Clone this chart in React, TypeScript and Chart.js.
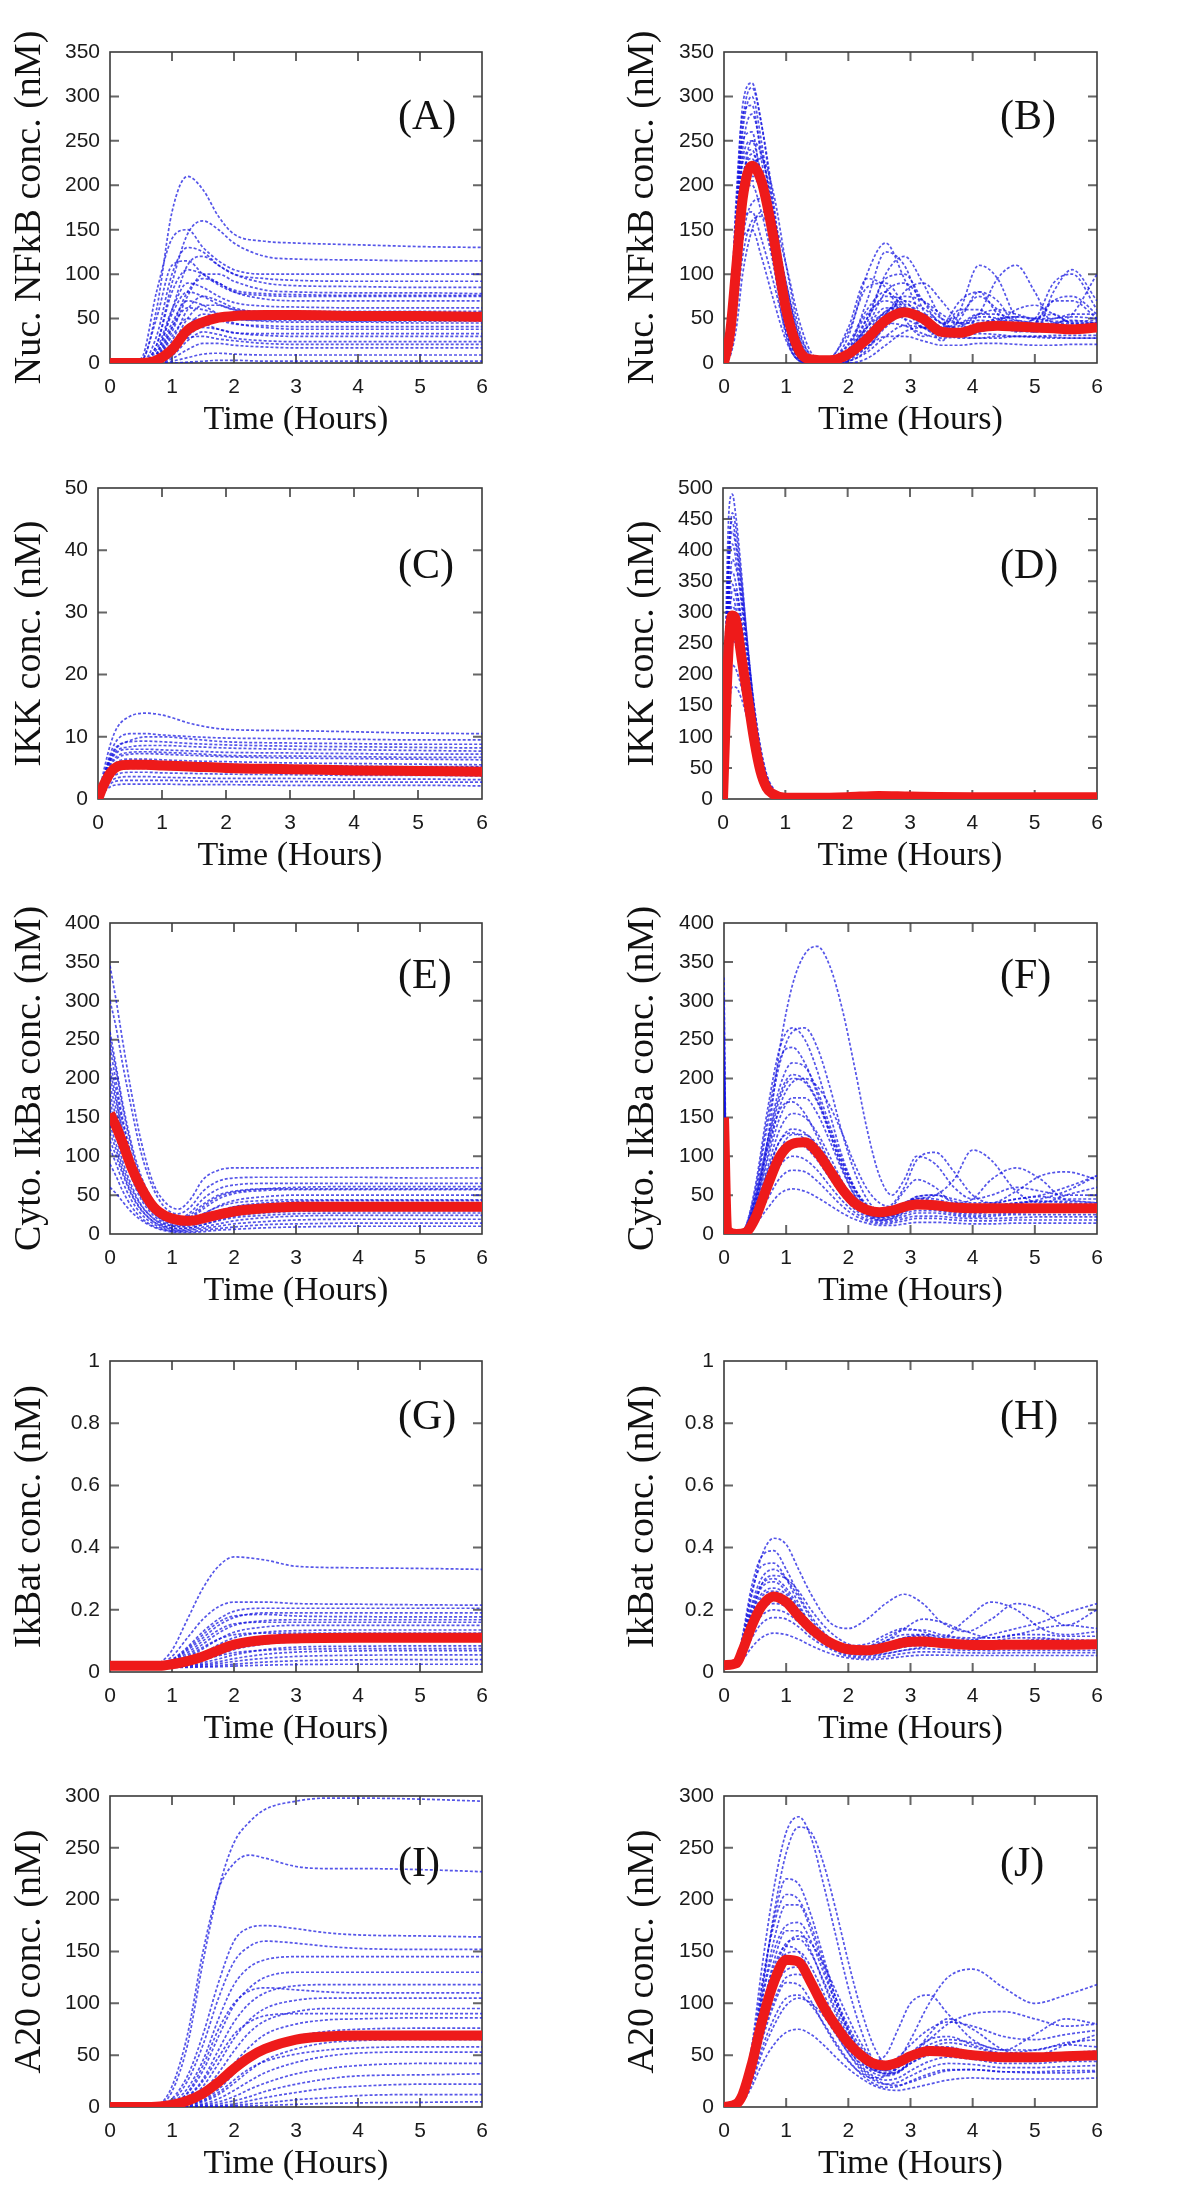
import React, { useEffect, useRef } from "react";
import { Chart, registerables } from "chart.js";

Chart.register(...registerables);

// ---------------- data ----------------
const X_MIN = 0;
const X_MAX = 6;

// Panel A: nuclear NFkB (left column)
const TIME_A = [0, 0.5, 0.75, 1.0, 1.25, 1.5, 1.75, 2.0, 2.5, 3, 4, 5, 6];
const MEAN_A = [0, 0, 3, 15, 37, 46, 51, 53, 54, 54, 53, 53, 52];
const RUNS_A = [
  [0, 2, 60, 170, 210, 195, 165, 145, 137, 135, 133, 131, 130],
  [0, 0, 20, 90, 145, 160, 150, 135, 120, 117, 116, 115, 115],
  [0, 5, 80, 140, 150, 130, 115, 105, 100, 100, 100, 100, 100],
  [0, 0, 30, 100, 130, 125, 110, 100, 95, 93, 92, 92, 92],
  [0, 0, 10, 60, 110, 120, 110, 100, 90, 87, 86, 85, 85],
  [0, 3, 50, 110, 115, 100, 88, 80, 76, 75, 75, 75, 75],
  [0, 0, 5, 40, 80, 95, 90, 80, 72, 70, 70, 70, 70],
  [0, 0, 15, 60, 90, 85, 75, 68, 64, 63, 62, 62, 62],
  [0, 0, 2, 25, 60, 75, 70, 62, 57, 56, 55, 55, 55],
  [0, 0, 8, 45, 70, 65, 55, 50, 47, 46, 46, 45, 45],
  [0, 0, 0, 15, 40, 55, 52, 45, 40, 38, 38, 38, 38],
  [0, 0, 3, 30, 50, 45, 38, 34, 31, 30, 30, 30, 30],
  [0, 0, 0, 8, 25, 35, 32, 28, 25, 24, 24, 24, 24],
  [0, 0, 0, 5, 15, 22, 22, 20, 18, 17, 17, 17, 17],
  [0, 0, 0, 2, 6, 10, 11, 10, 9, 9, 9, 9, 9],
  [0, 0, 0, 0, 1, 2, 3, 3, 2, 2, 2, 2, 2],
  [0, 0, 4, 35, 75, 100, 100, 92, 82, 80, 79, 79, 78],
  [0, 0, 1, 20, 50, 65, 65, 60, 55, 53, 52, 52, 52],
  [0, 0, 6, 40, 62, 60, 55, 50, 48, 48, 47, 47, 47],
  [0, 0, 2, 18, 42, 50, 48, 44, 42, 41, 41, 41, 41],
  [0, 0, 10, 55, 80, 75, 66, 60, 58, 58, 58, 58, 58],
  [0, 0, 0, 10, 30, 40, 38, 34, 33, 33, 33, 33, 33],
  [0, 0, 1, 12, 28, 30, 27, 25, 22, 21, 21, 21, 21],
  [0, 0, 20, 80, 105, 100, 90, 82, 78, 77, 76, 76, 76],
];

// Panel B: nuclear NFkB (right column)
const TIME_B = [0, 0.1, 0.2, 0.3, 0.45, 0.6, 0.8, 1.0, 1.2, 1.4, 1.7, 2.0, 2.3, 2.6, 2.9, 3.2, 3.5, 3.8, 4.1, 4.4, 4.7, 5.0, 5.3, 5.6, 6.0];
const MEAN_B = [0, 35, 110, 185, 222, 205, 140, 60, 15, 4, 3, 10, 27, 48, 57, 50, 35, 34, 40, 42, 41, 40, 39, 38, 40];
const RUNS_B = [
  [0, 50, 180, 290, 315, 270, 170, 60, 10, 0, 0, 15, 70, 125, 110, 60, 25, 60, 110, 95, 50, 35, 80, 105, 70],
  [0, 40, 160, 260, 300, 250, 150, 45, 5, 0, 2, 30, 100, 135, 95, 50, 30, 50, 80, 70, 45, 50, 90, 100, 60],
  [0, 30, 140, 240, 280, 240, 160, 70, 15, 2, 0, 10, 50, 95, 100, 70, 45, 55, 75, 60, 40, 45, 70, 75, 55],
  [0, 45, 170, 250, 260, 200, 110, 30, 3, 0, 5, 35, 85, 90, 65, 40, 40, 60, 60, 45, 40, 50, 55, 45, 45],
  [0, 25, 110, 200, 250, 235, 170, 80, 20, 3, 0, 8, 40, 80, 90, 70, 50, 45, 55, 60, 55, 50, 50, 55, 55],
  [0, 35, 130, 210, 230, 200, 130, 50, 10, 1, 3, 20, 55, 70, 60, 45, 38, 42, 48, 46, 42, 42, 45, 44, 43],
  [0, 20, 90, 170, 210, 205, 160, 90, 30, 5, 0, 5, 25, 55, 75, 70, 55, 45, 45, 50, 52, 50, 47, 47, 48],
  [0, 30, 120, 190, 200, 170, 110, 45, 8, 0, 2, 15, 40, 55, 50, 40, 32, 33, 38, 38, 36, 35, 36, 37, 37],
  [0, 15, 70, 140, 180, 185, 150, 90, 35, 8, 0, 3, 18, 40, 55, 55, 45, 38, 38, 42, 42, 40, 40, 41, 41],
  [0, 25, 100, 160, 170, 140, 90, 35, 5, 0, 1, 10, 30, 45, 42, 33, 28, 30, 33, 32, 30, 30, 31, 31, 31],
  [0, 10, 60, 120, 160, 165, 140, 85, 30, 6, 0, 2, 12, 30, 42, 40, 33, 28, 28, 30, 30, 29, 28, 28, 28],
  [0, 20, 85, 140, 150, 120, 70, 25, 3, 0, 0, 5, 18, 30, 30, 25, 20, 20, 22, 22, 21, 20, 20, 21, 21],
  [0, 50, 190, 280, 290, 230, 130, 35, 3, 0, 4, 40, 95, 85, 50, 30, 40, 70, 80, 55, 35, 45, 70, 70, 50],
  [0, 15, 80, 160, 220, 230, 190, 110, 40, 8, 0, 2, 15, 45, 80, 90, 70, 45, 35, 45, 60, 65, 55, 45, 45],
  [0, 8, 40, 100, 150, 170, 160, 110, 50, 12, 0, 0, 5, 20, 35, 40, 35, 30, 28, 28, 30, 30, 29, 28, 28],
  [0, 40, 150, 230, 250, 210, 130, 50, 8, 0, 1, 15, 50, 75, 70, 50, 40, 45, 55, 55, 48, 45, 50, 52, 50],
  [0, 35, 160, 270, 310, 270, 180, 70, 12, 0, 0, 8, 45, 100, 120, 90, 50, 35, 55, 95, 110, 80, 45, 55, 100],
  [0, 30, 125, 205, 235, 215, 150, 65, 14, 2, 2, 12, 35, 58, 62, 50, 38, 36, 40, 44, 43, 41, 40, 40, 41],
  [0, 28, 115, 195, 225, 205, 140, 58, 12, 1, 2, 14, 40, 62, 58, 44, 34, 35, 42, 45, 42, 39, 38, 40, 42],
  [0, 40, 145, 225, 240, 200, 120, 40, 6, 0, 3, 22, 60, 80, 62, 40, 32, 40, 52, 50, 40, 38, 44, 48, 45],
  [0, 18, 85, 165, 205, 200, 155, 80, 22, 3, 0, 6, 28, 55, 70, 62, 45, 35, 38, 48, 52, 48, 42, 42, 46],
  [0, 22, 95, 175, 215, 205, 150, 70, 16, 2, 1, 9, 32, 58, 66, 55, 40, 34, 38, 46, 48, 44, 40, 41, 44],
];

// Panel C: IKK (left column)
const TIME_C = [0, 0.1, 0.2, 0.3, 0.5, 0.75, 1.0, 1.5, 2.0, 3.0, 4.0, 5.0, 6.0];
const MEAN_C = [0, 2.5, 4.3, 5.2, 5.5, 5.5, 5.4, 5.2, 5.0, 4.8, 4.6, 4.5, 4.4];
const RUNS_C = [
  [0, 5, 9, 11.5, 13.3, 13.8, 13.5, 12, 11.2, 11, 10.8, 10.6, 10.5],
  [0, 4, 7.5, 9.5, 10.5, 10.5, 10.3, 10, 9.8, 9.7, 9.6, 9.5, 9.5],
  [0, 4, 7, 8.5, 9.2, 9.3, 9.2, 8.9, 8.7, 8.5, 8.4, 8.3, 8.2],
  [0, 3.5, 6.2, 7.5, 8, 8, 7.9, 7.7, 7.5, 7.4, 7.3, 7.2, 7.2],
  [0, 3, 5.5, 6.6, 7.2, 7.3, 7.2, 7, 6.8, 6.6, 6.5, 6.4, 6.3],
  [0, 3, 5, 6, 6.4, 6.4, 6.3, 6.1, 6, 5.8, 5.7, 5.6, 5.5],
  [0, 2.5, 4.5, 5.3, 5.7, 5.7, 5.6, 5.5, 5.3, 5.2, 5.1, 5, 5],
  [0, 2.2, 3.8, 4.6, 4.9, 4.9, 4.8, 4.7, 4.6, 4.5, 4.4, 4.3, 4.3],
  [0, 2, 3.4, 4, 4.3, 4.3, 4.2, 4.1, 4, 3.9, 3.8, 3.8, 3.7],
  [0, 1.7, 2.9, 3.4, 3.6, 3.6, 3.5, 3.4, 3.3, 3.3, 3.2, 3.2, 3.1],
  [0, 1.5, 2.5, 2.9, 3, 3, 3, 2.9, 2.8, 2.8, 2.7, 2.7, 2.7],
  [0, 1.2, 2, 2.3, 2.4, 2.4, 2.4, 2.3, 2.3, 2.2, 2.2, 2.2, 2.1],
  [0, 4, 6.5, 7.8, 8.4, 8.6, 8.6, 8.4, 8.2, 8, 7.9, 7.8, 7.7],
  [0, 3.2, 5.8, 6.9, 7.5, 7.6, 7.5, 7.3, 7, 6.9, 6.8, 6.7, 6.7],
  [0, 2.8, 4.8, 5.8, 6.1, 6.1, 6.0, 5.8, 5.6, 5.4, 5.3, 5.2, 5.2],
  [0, 2.4, 4.1, 4.9, 5.2, 5.2, 5.1, 5.0, 4.8, 4.7, 4.6, 4.5, 4.5],
  [0, 3.6, 6.6, 8.3, 9.4, 10.0, 10.0, 9.6, 9.2, 9.0, 8.9, 8.8, 8.8],
  [0, 2.6, 4.7, 5.6, 6.0, 6.0, 5.9, 5.7, 5.5, 5.3, 5.2, 5.1, 5.1],
];

// Panel D: IKK (right column)
const TIME_D = [0, 0.05, 0.1, 0.15, 0.2, 0.3, 0.4, 0.5, 0.6, 0.7, 0.8, 1.0, 1.5, 2, 2.5, 3, 4, 5, 6];
const MEAN_D = [0, 150, 260, 295, 290, 225, 160, 95, 45, 18, 8, 2, 2, 3, 5, 4, 3, 3, 3];
const RUNS_D = [
  [0, 300, 470, 490, 460, 360, 240, 140, 70, 30, 12, 3, 2, 3, 4, 4, 3, 3, 3],
  [0, 260, 420, 445, 420, 340, 240, 150, 85, 40, 18, 4, 2, 3, 4, 4, 3, 3, 3],
  [0, 230, 380, 410, 390, 310, 220, 135, 75, 35, 15, 3, 2, 3, 4, 4, 3, 3, 3],
  [0, 200, 340, 365, 350, 280, 190, 115, 60, 27, 11, 3, 2, 3, 4, 4, 3, 3, 3],
  [0, 170, 300, 325, 310, 245, 165, 95, 48, 20, 8, 2, 2, 3, 4, 4, 3, 3, 3],
  [0, 140, 255, 285, 275, 225, 160, 100, 55, 26, 11, 3, 2, 3, 4, 4, 3, 3, 3],
  [0, 120, 225, 255, 248, 205, 145, 88, 45, 20, 8, 2, 2, 3, 4, 4, 3, 3, 3],
  [0, 100, 190, 215, 210, 178, 130, 82, 44, 20, 8, 2, 2, 3, 4, 4, 3, 3, 3],
  [0, 80, 155, 180, 180, 160, 125, 85, 50, 25, 11, 3, 2, 3, 4, 4, 3, 3, 3],
  [0, 220, 390, 430, 410, 330, 230, 135, 65, 28, 12, 3, 2, 3, 4, 4, 3, 3, 3],
  [0, 180, 330, 385, 375, 320, 235, 150, 82, 38, 16, 4, 2, 3, 4, 4, 3, 3, 3],
  [0, 150, 285, 335, 335, 285, 205, 125, 64, 28, 11, 3, 2, 3, 4, 4, 3, 3, 3],
  [0, 160, 280, 310, 300, 240, 170, 100, 50, 22, 9, 2, 2, 3, 4, 4, 3, 3, 3],
  [0, 190, 320, 345, 330, 265, 180, 105, 52, 22, 9, 2, 2, 3, 4, 4, 3, 3, 3],
  [0, 240, 400, 460, 440, 350, 245, 145, 75, 33, 14, 3, 2, 3, 4, 4, 3, 3, 3],
];

// Panel E: cytoplasmic IkBa (left column)
const TIME_E = [0, 0.1, 0.2, 0.35, 0.5, 0.7, 0.9, 1.1, 1.3, 1.5, 1.75, 2.0, 2.5, 3, 4, 5, 6];
const MEAN_E = [155, 138, 118, 85, 60, 35, 23, 18, 17, 20, 25, 29, 33, 35, 35, 35, 35];
const RUNS_E = [
  [345, 300, 250, 180, 120, 65, 40, 32, 45, 70, 82, 85, 85, 85, 85, 85, 85],
  [300, 265, 220, 160, 105, 58, 33, 26, 35, 55, 68, 72, 73, 73, 73, 72, 72],
  [260, 215, 170, 115, 75, 42, 25, 20, 28, 45, 58, 63, 65, 65, 65, 65, 65],
  [240, 195, 150, 100, 62, 35, 20, 15, 20, 32, 45, 52, 56, 57, 57, 57, 57],
  [210, 175, 135, 90, 56, 30, 17, 13, 16, 25, 36, 43, 48, 50, 50, 50, 50],
  [190, 160, 125, 82, 52, 28, 15, 11, 13, 20, 28, 35, 40, 42, 43, 43, 43],
  [170, 140, 110, 72, 45, 24, 13, 9, 10, 15, 22, 28, 33, 35, 36, 36, 36],
  [150, 125, 95, 62, 38, 20, 10, 7, 8, 12, 18, 23, 27, 29, 30, 30, 30],
  [130, 108, 82, 52, 32, 16, 8, 5, 6, 9, 13, 17, 21, 23, 24, 24, 24],
  [110, 90, 68, 43, 26, 13, 6, 4, 5, 7, 10, 13, 16, 18, 19, 19, 19],
  [90, 74, 56, 35, 21, 10, 5, 3, 3, 5, 7, 9, 12, 13, 14, 14, 14],
  [60, 52, 42, 28, 18, 9, 4, 2, 2, 3, 5, 6, 8, 9, 10, 10, 10],
  [180, 150, 115, 75, 48, 27, 18, 18, 25, 38, 50, 55, 58, 58, 58, 58, 58],
  [140, 115, 88, 58, 37, 20, 12, 10, 12, 18, 25, 30, 33, 34, 34, 34, 34],
  [220, 185, 145, 97, 60, 33, 19, 14, 16, 23, 30, 35, 38, 39, 39, 39, 39],
  [160, 135, 108, 75, 50, 28, 17, 13, 14, 20, 28, 33, 36, 37, 37, 37, 37],
  [200, 170, 132, 88, 55, 30, 18, 14, 17, 26, 35, 40, 43, 44, 44, 44, 44],
  [120, 100, 78, 50, 31, 16, 9, 7, 8, 12, 17, 21, 24, 26, 27, 27, 27],
  [250, 210, 165, 110, 70, 38, 22, 17, 22, 35, 48, 54, 58, 60, 61, 61, 61],
];

// Panel F: cytoplasmic IkBa (right column)
const TIME_F = [0, 0.05, 0.2, 0.35, 0.5, 0.7, 0.9, 1.1, 1.3, 1.5, 1.7, 1.9, 2.1, 2.3, 2.5, 2.7, 2.9, 3.1, 3.4, 3.7, 4.0, 4.3, 4.7, 5.1, 5.5, 6.0];
const MEAN_F = [150, 5, 0, 2, 20, 62, 100, 116, 118, 105, 82, 58, 40, 31, 28, 30, 35, 38, 37, 34, 33, 33, 33, 33, 33, 33];
const RUNS_F = [
  [330, 10, 0, 5, 35, 120, 240, 320, 360, 370, 345, 290, 215, 135, 75, 50, 70, 100, 90, 60, 45, 50, 60, 55, 50, 50],
  [300, 8, 0, 8, 50, 140, 220, 260, 265, 240, 190, 130, 80, 45, 30, 35, 55, 70, 60, 40, 45, 70, 85, 70, 45, 45],
  [250, 6, 0, 10, 55, 150, 225, 240, 220, 180, 130, 85, 50, 30, 25, 30, 40, 45, 50, 70, 108, 95, 55, 40, 50, 60],
  [220, 5, 0, 8, 45, 120, 190, 220, 215, 185, 140, 95, 58, 35, 25, 28, 38, 45, 42, 35, 33, 35, 40, 42, 40, 38],
  [200, 5, 0, 6, 40, 110, 175, 200, 195, 170, 130, 88, 55, 33, 22, 25, 35, 42, 40, 32, 30, 33, 38, 45, 55, 75],
  [180, 4, 0, 5, 35, 95, 150, 175, 175, 155, 120, 82, 50, 30, 20, 22, 30, 38, 38, 32, 28, 30, 34, 36, 34, 33],
  [160, 4, 0, 5, 30, 85, 135, 155, 150, 130, 100, 68, 42, 26, 18, 20, 28, 34, 33, 28, 26, 28, 30, 31, 30, 30],
  [150, 3, 0, 4, 28, 78, 120, 135, 130, 112, 85, 58, 37, 24, 18, 20, 26, 30, 30, 26, 24, 25, 27, 28, 28, 28],
  [140, 3, 0, 4, 25, 68, 105, 118, 112, 95, 72, 50, 32, 22, 17, 18, 23, 27, 27, 24, 22, 23, 25, 25, 25, 25],
  [120, 3, 0, 3, 20, 55, 88, 100, 96, 82, 62, 43, 28, 19, 15, 16, 20, 23, 23, 21, 20, 20, 21, 22, 22, 22],
  [100, 2, 0, 3, 17, 45, 72, 82, 80, 68, 52, 36, 24, 17, 13, 14, 17, 20, 20, 18, 17, 17, 18, 18, 18, 18],
  [80, 2, 0, 2, 12, 33, 52, 58, 55, 47, 37, 27, 19, 14, 11, 11, 13, 15, 15, 14, 13, 13, 14, 14, 14, 14],
  [260, 7, 0, 10, 60, 160, 240, 265, 250, 210, 155, 100, 60, 38, 30, 38, 60, 95, 105, 80, 50, 40, 55, 75, 80, 70],
  [190, 5, 0, 6, 35, 100, 165, 195, 200, 190, 165, 130, 90, 58, 40, 35, 40, 48, 50, 45, 40, 40, 45, 50, 60, 75],
  [170, 4, 0, 7, 42, 110, 160, 170, 155, 125, 92, 62, 40, 28, 24, 28, 38, 48, 50, 42, 36, 38, 45, 48, 44, 40],
  [130, 3, 0, 5, 30, 80, 120, 130, 122, 102, 78, 54, 36, 26, 22, 25, 32, 38, 38, 34, 31, 32, 34, 35, 35, 35],
  [110, 3, 0, 4, 26, 70, 108, 120, 115, 98, 75, 52, 35, 25, 21, 23, 30, 36, 36, 32, 30, 30, 32, 33, 33, 33],
  [210, 5, 0, 7, 45, 118, 180, 205, 198, 172, 135, 92, 58, 36, 26, 28, 38, 46, 45, 38, 34, 36, 40, 42, 42, 40],
  [150, 3, 0, 3, 22, 65, 108, 128, 128, 115, 92, 66, 44, 30, 23, 24, 30, 36, 38, 35, 32, 32, 34, 36, 36, 35],
];

// Panel G: IkBat (left column)
const TIME_G = [0, 0.5, 0.8, 1.0, 1.25, 1.5, 1.75, 2.0, 2.5, 3, 4, 5, 6];
const MEAN_G = [0.02, 0.02, 0.02, 0.025, 0.035, 0.05, 0.07, 0.088, 0.103, 0.108, 0.11, 0.11, 0.11];
const RUNS_G = [
  [0.02, 0.02, 0.03, 0.07, 0.17, 0.27, 0.34, 0.37, 0.36, 0.34, 0.335, 0.333, 0.33],
  [0.02, 0.02, 0.025, 0.05, 0.11, 0.17, 0.21, 0.225, 0.225, 0.22, 0.218, 0.216, 0.215],
  [0.02, 0.02, 0.024, 0.04, 0.08, 0.13, 0.17, 0.195, 0.205, 0.205, 0.205, 0.205, 0.205],
  [0.02, 0.02, 0.022, 0.035, 0.07, 0.11, 0.15, 0.175, 0.19, 0.19, 0.19, 0.19, 0.19],
  [0.02, 0.02, 0.022, 0.03, 0.055, 0.09, 0.125, 0.15, 0.165, 0.168, 0.168, 0.168, 0.168],
  [0.02, 0.02, 0.021, 0.027, 0.045, 0.075, 0.105, 0.128, 0.145, 0.15, 0.15, 0.15, 0.15],
  [0.02, 0.02, 0.02, 0.024, 0.037, 0.06, 0.088, 0.11, 0.128, 0.133, 0.135, 0.135, 0.135],
  [0.02, 0.02, 0.02, 0.022, 0.03, 0.048, 0.07, 0.09, 0.108, 0.115, 0.118, 0.118, 0.118],
  [0.02, 0.02, 0.02, 0.021, 0.026, 0.038, 0.055, 0.072, 0.09, 0.097, 0.1, 0.1, 0.1],
  [0.02, 0.02, 0.02, 0.02, 0.023, 0.03, 0.042, 0.055, 0.072, 0.08, 0.083, 0.084, 0.084],
  [0.02, 0.02, 0.02, 0.02, 0.021, 0.025, 0.033, 0.043, 0.057, 0.064, 0.068, 0.069, 0.069],
  [0.02, 0.02, 0.02, 0.02, 0.02, 0.022, 0.027, 0.034, 0.044, 0.05, 0.054, 0.055, 0.055],
  [0.015, 0.015, 0.015, 0.015, 0.016, 0.018, 0.021, 0.025, 0.032, 0.036, 0.039, 0.04, 0.04],
  [0.015, 0.015, 0.015, 0.015, 0.015, 0.016, 0.017, 0.019, 0.022, 0.024, 0.025, 0.025, 0.025],
  [0.02, 0.02, 0.023, 0.038, 0.075, 0.12, 0.16, 0.18, 0.185, 0.18, 0.178, 0.177, 0.177],
  [0.02, 0.02, 0.021, 0.03, 0.05, 0.08, 0.105, 0.12, 0.125, 0.125, 0.125, 0.125, 0.125],
  [0.02, 0.02, 0.02, 0.025, 0.04, 0.062, 0.08, 0.092, 0.1, 0.102, 0.103, 0.103, 0.103],
  [0.02, 0.02, 0.022, 0.033, 0.062, 0.1, 0.135, 0.155, 0.16, 0.16, 0.16, 0.16, 0.16],
  [0.02, 0.02, 0.02, 0.022, 0.028, 0.04, 0.052, 0.062, 0.07, 0.073, 0.075, 0.075, 0.075],
];

// Panel H: IkBat (right column)
const TIME_H = [0, 0.2, 0.3, 0.45, 0.6, 0.8, 1.0, 1.2, 1.4, 1.7, 2.0, 2.3, 2.6, 2.9, 3.2, 3.5, 3.9, 4.3, 4.7, 5.1, 5.5, 6.0];
const MEAN_H = [0.022, 0.028, 0.07, 0.15, 0.21, 0.243, 0.225, 0.18, 0.14, 0.095, 0.073, 0.07, 0.08, 0.095, 0.098, 0.093, 0.088, 0.087, 0.088, 0.088, 0.088, 0.089];
const RUNS_H = [
  [0.02, 0.03, 0.1, 0.25, 0.37, 0.43, 0.41, 0.33, 0.25, 0.16, 0.14, 0.17, 0.22, 0.25, 0.22, 0.16, 0.13, 0.17, 0.22, 0.2, 0.15, 0.2],
  [0.02, 0.035, 0.12, 0.28, 0.37, 0.39, 0.33, 0.25, 0.18, 0.11, 0.085, 0.09, 0.12, 0.14, 0.13, 0.11, 0.17, 0.225, 0.2, 0.14, 0.12, 0.13],
  [0.02, 0.03, 0.1, 0.22, 0.3, 0.33, 0.3, 0.24, 0.17, 0.1, 0.075, 0.08, 0.1, 0.12, 0.12, 0.1, 0.1, 0.12, 0.14, 0.16, 0.19, 0.22],
  [0.02, 0.03, 0.09, 0.2, 0.27, 0.29, 0.26, 0.2, 0.15, 0.1, 0.08, 0.08, 0.09, 0.11, 0.115, 0.105, 0.1, 0.1, 0.11, 0.11, 0.1, 0.1],
  [0.02, 0.028, 0.08, 0.17, 0.24, 0.26, 0.24, 0.19, 0.14, 0.09, 0.065, 0.065, 0.075, 0.09, 0.095, 0.09, 0.085, 0.085, 0.087, 0.088, 0.088, 0.088],
  [0.02, 0.026, 0.07, 0.15, 0.21, 0.23, 0.22, 0.18, 0.13, 0.085, 0.06, 0.058, 0.068, 0.08, 0.085, 0.082, 0.078, 0.077, 0.078, 0.078, 0.078, 0.078],
  [0.02, 0.025, 0.06, 0.13, 0.18, 0.2, 0.19, 0.16, 0.12, 0.08, 0.055, 0.05, 0.058, 0.07, 0.075, 0.073, 0.07, 0.069, 0.07, 0.07, 0.07, 0.07],
  [0.02, 0.024, 0.05, 0.11, 0.155, 0.175, 0.17, 0.145, 0.11, 0.075, 0.05, 0.045, 0.05, 0.06, 0.065, 0.064, 0.062, 0.061, 0.062, 0.062, 0.062, 0.062],
  [0.02, 0.022, 0.04, 0.08, 0.11, 0.125, 0.12, 0.105, 0.085, 0.06, 0.045, 0.04, 0.043, 0.05, 0.054, 0.054, 0.053, 0.053, 0.053, 0.053, 0.053, 0.053],
  [0.02, 0.03, 0.11, 0.26, 0.34, 0.35, 0.3, 0.22, 0.15, 0.09, 0.07, 0.08, 0.11, 0.135, 0.135, 0.12, 0.11, 0.11, 0.12, 0.12, 0.115, 0.115],
  [0.02, 0.028, 0.09, 0.19, 0.25, 0.27, 0.25, 0.2, 0.15, 0.1, 0.075, 0.075, 0.09, 0.11, 0.12, 0.115, 0.105, 0.1, 0.1, 0.105, 0.105, 0.1],
  [0.02, 0.03, 0.08, 0.18, 0.28, 0.31, 0.3, 0.26, 0.2, 0.13, 0.09, 0.08, 0.1, 0.14, 0.17, 0.16, 0.13, 0.11, 0.12, 0.14, 0.15, 0.14],
  [0.02, 0.025, 0.065, 0.14, 0.2, 0.22, 0.21, 0.17, 0.13, 0.085, 0.06, 0.055, 0.06, 0.07, 0.08, 0.085, 0.083, 0.08, 0.078, 0.078, 0.08, 0.08],
  [0.02, 0.027, 0.075, 0.16, 0.22, 0.245, 0.23, 0.185, 0.14, 0.095, 0.07, 0.068, 0.078, 0.092, 0.098, 0.094, 0.09, 0.088, 0.088, 0.09, 0.09, 0.09],
  [0.02, 0.026, 0.068, 0.145, 0.205, 0.24, 0.235, 0.2, 0.155, 0.105, 0.078, 0.072, 0.08, 0.095, 0.105, 0.102, 0.095, 0.09, 0.09, 0.092, 0.092, 0.092],
  [0.02, 0.03, 0.095, 0.21, 0.28, 0.3, 0.27, 0.21, 0.15, 0.095, 0.07, 0.07, 0.085, 0.1, 0.105, 0.1, 0.095, 0.095, 0.1, 0.1, 0.098, 0.098],
];

// Panel I: A20 (left column)
const TIME_I = [0, 0.5, 0.8, 1.0, 1.25, 1.5, 1.75, 2.0, 2.25, 2.5, 3.0, 3.5, 4, 5, 6];
const MEAN_I = [0, 0, 0.5, 2, 6, 13, 24, 37, 48, 56, 65, 68, 69, 69, 69];
const RUNS_I = [
  [0, 0, 2, 15, 60, 140, 210, 255, 275, 287, 295, 298, 298, 297, 295],
  [0, 0, 3, 20, 70, 150, 210, 235, 243, 240, 232, 230, 230, 229, 227],
  [0, 0, 1, 8, 30, 70, 120, 160, 173, 175, 172, 168, 166, 165, 164],
  [0, 0, 1, 6, 25, 60, 105, 140, 155, 160, 158, 155, 153, 152, 152],
  [0, 0, 0.5, 4, 18, 45, 85, 118, 135, 142, 145, 145, 145, 145, 145],
  [0, 0, 0.3, 3, 13, 35, 68, 98, 115, 125, 130, 130, 130, 130, 130],
  [0, 0, 0.2, 2, 10, 27, 55, 82, 100, 110, 117, 118, 118, 118, 118],
  [0, 0, 0, 1, 7, 20, 42, 66, 84, 95, 103, 105, 105, 105, 105],
  [0, 0, 0, 1, 5, 15, 33, 54, 72, 83, 92, 95, 95, 95, 95],
  [0, 0, 0, 0.5, 3, 10, 24, 42, 58, 70, 80, 84, 85, 86, 86],
  [0, 0, 0, 0.3, 2, 7, 17, 32, 46, 57, 68, 73, 75, 76, 76],
  [0, 0, 0, 0.2, 1, 5, 12, 23, 35, 45, 56, 62, 64, 65, 65],
  [0, 0, 0, 0, 0.5, 3, 8, 16, 25, 33, 43, 49, 52, 53, 53],
  [0, 0, 0, 0, 0.3, 2, 5, 10, 17, 23, 32, 37, 40, 42, 42],
  [0, 0, 0, 0, 0.2, 1, 3, 6, 10, 15, 22, 27, 30, 31, 32],
  [0, 0, 0, 0, 0, 0.5, 1.5, 3, 6, 9, 14, 18, 20, 22, 22],
  [0, 0, 0, 0, 0, 0.2, 0.6, 1.5, 3, 4, 7, 9, 11, 12, 12],
  [0, 0, 0, 0, 0, 0, 0.2, 0.5, 1, 1.5, 2.5, 3.5, 4, 4.5, 5],
  [0, 0, 0.5, 3, 14, 40, 75, 100, 112, 115, 113, 111, 110, 110, 110],
  [0, 0, 0.3, 2, 9, 25, 48, 70, 82, 88, 90, 90, 90, 90, 90],
  [0, 0, 0, 0.5, 3, 9, 20, 35, 47, 55, 62, 65, 66, 67, 67],
  [0, 0, 0, 0.3, 2, 6, 14, 26, 37, 44, 51, 55, 57, 58, 58],
];

// Panel J: A20 (right column)
const TIME_J = [0, 0.2, 0.3, 0.45, 0.6, 0.8, 1.0, 1.2, 1.4, 1.6, 1.8, 2.0, 2.2, 2.4, 2.6, 2.8, 3.0, 3.3, 3.6, 4.0, 4.5, 5.0, 5.5, 6.0];
const MEAN_J = [0, 3, 12, 42, 80, 120, 142, 140, 120, 97, 78, 62, 50, 42, 40, 43, 49, 54, 53, 50, 48, 48, 49, 50];
const RUNS_J = [
  [0, 2, 15, 60, 130, 210, 265, 280, 260, 215, 165, 115, 75, 45, 35, 45, 65, 100, 125, 133, 115, 100, 108, 118],
  [0, 1, 10, 45, 105, 185, 245, 270, 265, 235, 190, 140, 95, 60, 40, 35, 45, 70, 85, 75, 55, 50, 60, 70],
  [0, 2, 12, 50, 110, 180, 220, 215, 185, 145, 105, 75, 55, 45, 50, 75, 100, 108, 90, 65, 55, 70, 85, 80],
  [0, 2, 12, 48, 100, 160, 195, 195, 170, 135, 100, 72, 50, 38, 35, 40, 52, 65, 68, 60, 52, 55, 60, 58],
  [0, 2, 11, 42, 88, 140, 170, 170, 150, 120, 90, 65, 45, 33, 30, 33, 42, 52, 56, 52, 46, 46, 50, 50],
  [0, 2, 10, 38, 78, 120, 148, 150, 135, 110, 82, 58, 40, 30, 26, 28, 35, 44, 48, 46, 42, 42, 44, 44],
  [0, 1, 8, 32, 66, 102, 125, 128, 116, 95, 72, 52, 36, 26, 22, 24, 30, 38, 42, 41, 38, 38, 39, 40],
  [0, 1, 7, 27, 55, 85, 105, 108, 98, 81, 62, 45, 32, 23, 19, 20, 25, 32, 36, 36, 34, 34, 35, 35],
  [0, 1, 5, 20, 40, 60, 72, 75, 70, 60, 48, 37, 28, 21, 17, 16, 18, 22, 26, 28, 27, 27, 27, 28],
  [0, 2, 14, 55, 115, 175, 205, 200, 175, 140, 105, 78, 58, 45, 42, 48, 60, 75, 82, 78, 68, 65, 70, 74],
  [0, 1, 9, 35, 75, 120, 155, 165, 158, 138, 112, 86, 62, 45, 38, 40, 50, 65, 80, 90, 92, 85, 78, 80],
  [0, 1, 8, 30, 62, 98, 120, 118, 102, 80, 60, 44, 33, 28, 30, 38, 50, 58, 58, 52, 46, 46, 48, 48],
  [0, 2, 10, 40, 82, 128, 158, 162, 148, 122, 94, 68, 48, 36, 33, 38, 48, 60, 65, 62, 55, 55, 62, 65],
  [0, 1, 6, 24, 50, 78, 98, 105, 100, 88, 70, 52, 38, 28, 22, 21, 24, 30, 35, 36, 34, 33, 33, 34],
  [0, 2, 12, 45, 90, 135, 155, 150, 128, 100, 75, 55, 42, 36, 36, 42, 50, 57, 56, 52, 49, 49, 50, 51],
  [0, 2, 11, 40, 82, 125, 140, 138, 122, 98, 76, 58, 45, 38, 36, 40, 47, 54, 55, 52, 48, 47, 48, 49],
  [0, 1, 9, 34, 72, 112, 132, 135, 124, 104, 82, 62, 46, 36, 32, 34, 42, 50, 52, 49, 45, 44, 46, 46],
  [0, 2, 13, 50, 100, 150, 175, 178, 160, 130, 100, 74, 52, 38, 32, 34, 44, 56, 62, 58, 50, 48, 52, 54],
];

const X_TITLE = "Time (Hours)";

// ---------------- layout / style ----------------
const CANVAS_W = 600;
const CANVAS_H = 460;
const PAD_TOP = 52;
const PLOT_H = 311;

const SERIF = "'Liberation Serif', 'Times New Roman', serif";
const SANS = "'Liberation Sans', Arial, sans-serif";

const PANELS = [
  { id: "A", yTitle: "Nuc. NFkB conc. (nM)", yMax: 350, yStep: 50, time: TIME_A, mean: MEAN_A, runs: RUNS_A, col: 0, plotTop: 52, axisW: 110, labelDx: 288, labelDy: 66 },
  { id: "B", yTitle: "Nuc. NFkB conc. (nM)", yMax: 350, yStep: 50, time: TIME_B, mean: MEAN_B, runs: RUNS_B, col: 1, plotTop: 52, axisW: 124, labelDx: 276, labelDy: 66 },
  { id: "C", yTitle: "IKK conc. (nM)", yMax: 50, yStep: 10, time: TIME_C, mean: MEAN_C, runs: RUNS_C, col: 0, plotTop: 488, axisW: 98, labelDx: 300, labelDy: 79 },
  { id: "D", yTitle: "IKK conc. (nM)", yMax: 500, yStep: 50, time: TIME_D, mean: MEAN_D, runs: RUNS_D, col: 1, plotTop: 488, axisW: 123, labelDx: 277, labelDy: 79 },
  { id: "E", yTitle: "Cyto. IkBa conc. (nM)", yMax: 400, yStep: 50, time: TIME_E, mean: MEAN_E, runs: RUNS_E, col: 0, plotTop: 923, axisW: 110, labelDx: 288, labelDy: 54 },
  { id: "F", yTitle: "Cyto. IkBa conc. (nM)", yMax: 400, yStep: 50, time: TIME_F, mean: MEAN_F, runs: RUNS_F, col: 1, plotTop: 923, axisW: 124, labelDx: 276, labelDy: 54 },
  { id: "G", yTitle: "IkBat conc. (nM)", yMax: 1, yStep: 0.2, time: TIME_G, mean: MEAN_G, runs: RUNS_G, col: 0, plotTop: 1361, axisW: 110, labelDx: 288, labelDy: 57 },
  { id: "H", yTitle: "IkBat conc. (nM)", yMax: 1, yStep: 0.2, time: TIME_H, mean: MEAN_H, runs: RUNS_H, col: 1, plotTop: 1361, axisW: 124, labelDx: 276, labelDy: 57 },
  { id: "I", yTitle: "A20 conc. (nM)", yMax: 300, yStep: 50, time: TIME_I, mean: MEAN_I, runs: RUNS_I, col: 0, plotTop: 1796, axisW: 110, labelDx: 288, labelDy: 69 },
  { id: "J", yTitle: "A20 conc. (nM)", yMax: 300, yStep: 50, time: TIME_J, mean: MEAN_J, runs: RUNS_J, col: 1, plotTop: 1796, axisW: 124, labelDx: 276, labelDy: 69 },
];

const framePlugin = {
  id: "frameTicks",
  beforeDatasetsDraw(chart: any) {
    const { ctx, chartArea } = chart;
    const { left, right, top, bottom } = chartArea;
    const xs = chart.scales.x;
    const ys = chart.scales.y;
    const L = 9;
    ctx.save();
    ctx.strokeStyle = "#666";
    ctx.lineWidth = 2;
    ctx.beginPath();
    xs.ticks.forEach((t: any) => {
      const px = xs.getPixelForValue(t.value);
      if (px <= left + 1 || px >= right - 1) return;
      ctx.moveTo(px, bottom);
      ctx.lineTo(px, bottom - L);
      ctx.moveTo(px, top);
      ctx.lineTo(px, top + L);
    });
    ys.ticks.forEach((t: any) => {
      const py = ys.getPixelForValue(t.value);
      if (py <= top + 1 || py >= bottom - 1) return;
      ctx.moveTo(left, py);
      ctx.lineTo(left + L, py);
      ctx.moveTo(right, py);
      ctx.lineTo(right - L, py);
    });
    ctx.stroke();
    ctx.strokeStyle = "#3a3a3a";
    ctx.lineWidth = 1.6;
    ctx.strokeRect(left, top, right - left, bottom - top);
    ctx.restore();
  },
};

function makeLabelPlugin(p: any) {
  return {
    id: "panelLabel",
    afterDatasetsDraw(chart: any) {
      const { ctx, chartArea } = chart;
      ctx.save();
      ctx.fillStyle = "#111";
      ctx.font = `42px ${SERIF}`;
      ctx.textAlign = "left";
      ctx.textBaseline = "middle";
      ctx.fillText(`(${p.id})`, chartArea.left + p.labelDx, chartArea.top + p.labelDy);
      ctx.restore();
    },
  };
}

function fmt(v: any) {
  return String(Math.round(Number(v) * 100) / 100);
}

function makeChart(canvas: HTMLCanvasElement, p: any) {
  const toPts = (series: number[]) => p.time.map((t: number, i: number) => ({ x: t, y: series[i] }));
  const datasets: any[] = [
    {
      data: toPts(p.mean),
      borderColor: "#ee1a1a",
      borderWidth: 10,
      pointRadius: 0,
      cubicInterpolationMode: "monotone",
      borderJoinStyle: "round",
      order: 0,
    },
    ...p.runs.map((r: number[]) => ({
      data: toPts(r),
      borderColor: "rgba(20,20,225,0.72)",
      borderWidth: 1.7,
      borderDash: [3, 2],
      pointRadius: 0,
      cubicInterpolationMode: "monotone",
      order: 1,
    })),
  ];
  const rightPad = p.col === 0 ? 118 : 103;
  const yTitlePad = p.col === 0 ? 11 : 24;
  return new Chart(canvas, {
    type: "line",
    data: { datasets },
    options: {
      animation: false,
      responsive: false,
      events: [],
      layout: { padding: { left: 0, top: PAD_TOP, right: rightPad, bottom: 0 } },
      plugins: { legend: { display: false }, tooltip: { enabled: false } },
      scales: {
        x: {
          type: "linear",
          min: X_MIN,
          max: X_MAX,
          grid: { display: false, drawTicks: false },
          border: { display: false },
          ticks: {
            stepSize: 1,
            padding: 12,
            color: "#1a1a1a",
            autoSkip: false,
            maxRotation: 0,
            font: { family: SANS, size: 21 },
            callback: fmt,
          },
          title: {
            display: true,
            text: X_TITLE,
            color: "#111",
            font: { family: SERIF, size: 34, lineHeight: 1 },
            padding: { top: 0, bottom: 23 },
          },
          afterFit: (s: any) => {
            s.height = CANVAS_H - PAD_TOP - PLOT_H;
          },
        },
        y: {
          type: "linear",
          min: 0,
          max: p.yMax,
          grid: { display: false, drawTicks: false },
          border: { display: false },
          ticks: {
            stepSize: p.yStep,
            padding: 10,
            color: "#1a1a1a",
            autoSkip: false,
            font: { family: SANS, size: 21 },
            callback: fmt,
          },
          title: {
            display: true,
            text: p.yTitle,
            color: "#111",
            font: { family: SERIF, size: 38, lineHeight: 1 },
            padding: { top: yTitlePad, bottom: 0 },
          },
          afterFit: (s: any) => {
            s.width = p.axisW;
          },
        },
      },
    } as any,
    plugins: [framePlugin, makeLabelPlugin(p)],
  });
}

function Panel({ p }: { p: any }) {
  const ref = useRef<HTMLCanvasElement | null>(null);
  useEffect(() => {
    if (!ref.current) return;
    const chart = makeChart(ref.current, p);
    return () => chart.destroy();
  }, [p]);
  return (
    <canvas
      ref={ref}
      width={CANVAS_W}
      height={CANVAS_H}
      style={{
        position: "absolute",
        left: p.col === 0 ? 0 : 600,
        top: p.plotTop - PAD_TOP,
        width: CANVAS_W,
        height: CANVAS_H,
      }}
    />
  );
}

export default function App() {
  return (
    <div
      style={{
        position: "absolute",
        left: 0,
        top: 0,
        width: 1200,
        height: 2205,
        background: "#fff",
        overflow: "hidden",
      }}
    >
      {PANELS.map((p) => (
        <Panel key={p.id} p={p} />
      ))}
    </div>
  );
}
